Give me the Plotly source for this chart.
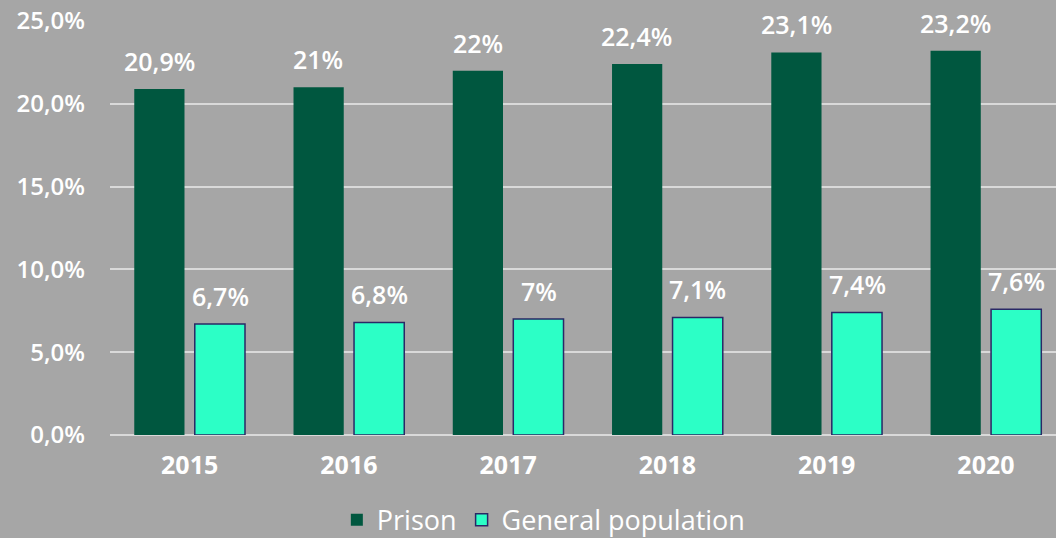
import plotly.graph_objects as go

years = ["2015", "2016", "2017", "2018", "2019", "2020"]
prison = [20.9, 21.0, 22.0, 22.4, 23.1, 23.2]
general = [6.7, 6.8, 7.0, 7.1, 7.4, 7.6]
y_ticks = [0, 5, 10, 15, 20, 25]
y_tick_labels = ["0,0%", "5,0%", "10,0%", "15,0%", "20,0%", "25,0%"]


def fmt(v):
    s = ("%g" % v).replace(".", ",")
    return s + "%"


BG = "#A6A6A6"
FONT = "Open Sans"

fig = go.Figure()
fig.add_trace(go.Bar(
    name="Prison", x=years, y=prison,
    marker=dict(color="#00573F", line=dict(color="#00573F", width=0)),
))
fig.add_trace(go.Bar(
    name="General population", x=years, y=general,
    marker=dict(color="#2CFFC6", line=dict(color="#2A2866", width=1.5)),
))

# value labels above each bar (x = category serial number on the category axis)
for series, shift in ((prison, -30.5), (general, 30.5)):
    for i, v in enumerate(series):
        fig.add_annotation(
            x=i, y=v, xref="x", yref="y", text=fmt(v), showarrow=False,
            xshift=shift, yshift=9, yanchor="bottom", xanchor="center",
            font=dict(color="white", size=25, family=FONT, weight=600),
        )

fig.update_layout(
    width=1056, height=538,
    paper_bgcolor=BG, plot_bgcolor=BG,
    margin=dict(l=110, r=0, t=21, b=103),
    barmode="group", bargap=0.24, bargroupgap=0.17,
    font=dict(family=FONT, color="white", size=24),
    showlegend=True,
    legend=dict(
        orientation="h", xref="container", yref="container",
        x=0.515, y=0.033, xanchor="center", yanchor="middle",
        font=dict(size=27, color="white", family=FONT),
        bgcolor="rgba(0,0,0,0)", tracegroupgap=0,
    ),
    xaxis=dict(
        type="category", range=[-0.5, 5.44],
        showgrid=False, zeroline=False, showline=False,
        tickfont=dict(size=25, color="white", family=FONT, weight=700),
        ticks="", ticklabelstandoff=13,
    ),
    yaxis=dict(
        range=[0, 25], tickvals=y_ticks, ticktext=y_tick_labels,
        showgrid=True, gridcolor="#D9D9D9", gridwidth=2,
        zeroline=True, zerolinecolor="#D9D9D9", zerolinewidth=2,
        showline=False, ticks="", ticklabelstandoff=24,
        tickfont=dict(size=24, color="white", family=FONT, weight=600),
    ),
)

fig.write_html("out.html")
